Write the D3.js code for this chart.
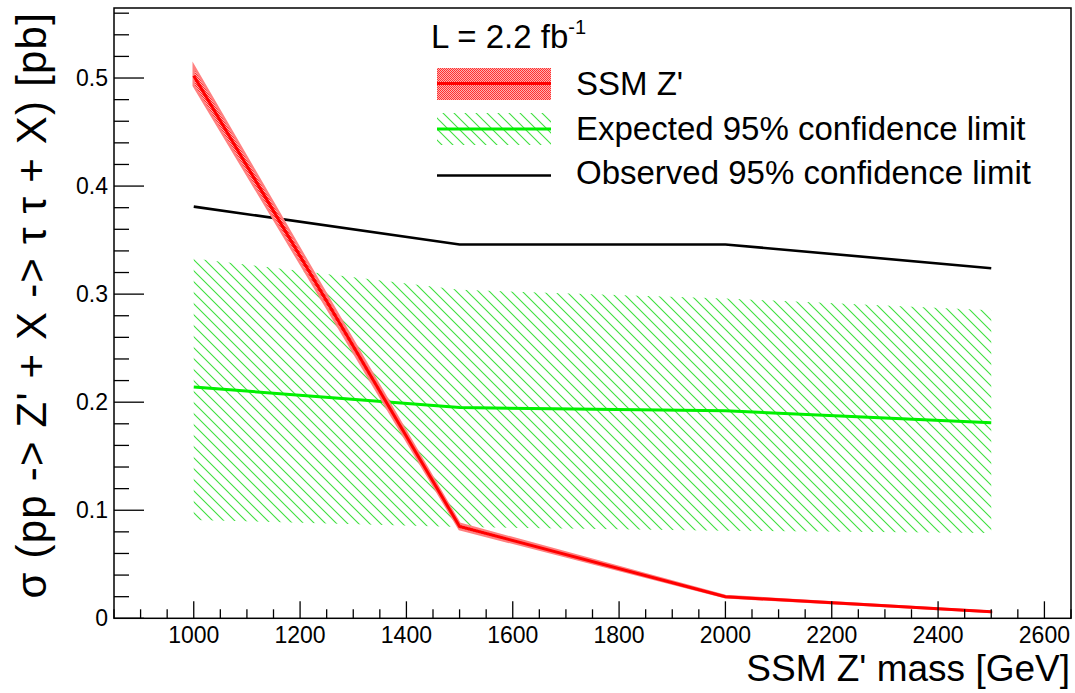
<!DOCTYPE html>
<html><head><meta charset="utf-8">
<script src="https://cdn.jsdelivr.net/npm/d3@7"></script>
<style>body{margin:0;background:#fff}svg{display:block}text{font-family:"Liberation Sans",Arial,sans-serif}</style>
</head><body>
<script>
// ---- data ----
const masses = [1000, 1500, 2000, 2500];
const ssmXsec = [0.502, 0.085, 0.020, 0.006];
const ssmErr = [0.009, 0.0025, 0.0006, 0.0002];
const expected = [0.214, 0.195, 0.192, 0.181];
const expectedHigh = [0.333, 0.304, 0.296, 0.285];
const expectedLow = [0.091, 0.0845, 0.081, 0.079];
const observed = [0.381, 0.346, 0.346, 0.324];
const xTicks = [1000, 1200, 1400, 1600, 1800, 2000, 2200, 2400, 2600];
const yTicks = [0, 0.1, 0.2, 0.3, 0.4, 0.5];
const legendLabels = ["SSM Z'", "Expected 95% confidence limit", "Observed 95% confidence limit"];

const W = 1075, H = 693;
const L = 114, R = 1071, T = 8, B = 618.3;
const svg = d3.select("body").append("svg").attr("width", W).attr("height", H);
const x = d3.scaleLinear().domain([850, 2650]).range([L, R]);
const y = d3.scaleLinear().domain([0, 0.5648]).range([B, T]);

const defs = svg.append("defs");
const hatch = defs.append("pattern").attr("id", "hatch").attr("patternUnits", "userSpaceOnUse")
  .attr("width", 11).attr("height", 11);
hatch.append("path").attr("d", "M-1,-1L12,12M-12,-1L1,12M10,-1L23,12").attr("stroke", "#3ee03e").attr("stroke-width", 1.1);
const dots = defs.append("pattern").attr("id", "dots").attr("patternUnits", "userSpaceOnUse")
  .attr("width", 2).attr("height", 2);
dots.append("rect").attr("width", 2).attr("height", 2).attr("fill", "#ffb0b0");
dots.append("rect").attr("width", 1).attr("height", 1).attr("fill", "#ff3030");
dots.append("rect").attr("x", 1).attr("y", 1).attr("width", 1).attr("height", 1).attr("fill", "#ff3030");

const idx = d3.range(masses.length);

// expected band
svg.append("path").datum(idx)
  .attr("d", d3.area().x(i => x(masses[i])).y0(i => y(expectedLow[i])).y1(i => y(expectedHigh[i])))
  .attr("fill", "url(#hatch)");
// expected line
svg.append("path").datum(idx)
  .attr("d", d3.line().x(i => x(masses[i])).y(i => y(expected[i])))
  .attr("fill", "none").attr("stroke", "#00f000").attr("stroke-width", 3);
// observed
svg.append("path").datum(idx)
  .attr("d", d3.line().x(i => x(masses[i])).y(i => y(observed[i])))
  .attr("fill", "none").attr("stroke", "#000").attr("stroke-width", 2.6);
// SSM band
svg.append("path").datum(idx)
  .attr("d", d3.area().x(i => x(masses[i])).y0(i => y(ssmXsec[i] - ssmErr[i])).y1(i => y(ssmXsec[i] + ssmErr[i])))
  .attr("fill", "url(#dots)").attr("stroke", "#ff8080").attr("stroke-width", 2.5);
svg.append("path").datum(idx)
  .attr("d", d3.line().x(i => x(masses[i])).y(i => y(ssmXsec[i])))
  .attr("fill", "none").attr("stroke", "#ff0000").attr("stroke-width", 3);

// frame
svg.append("rect").attr("x", L).attr("y", T).attr("width", R - L).attr("height", B - T)
  .attr("fill", "none").attr("stroke", "#000").attr("stroke-width", 1.5);

// x ticks (inward)
const xMinor = d3.range(850, 2651, 50);
svg.append("g").selectAll("line").data(xMinor).join("line")
  .attr("x1", d => x(d)).attr("x2", d => x(d)).attr("y1", B)
  .attr("y2", d => B - (d % 200 === 0 ? 17 : 9))
  .attr("stroke", "#000").attr("stroke-width", 1.3);
svg.append("g").selectAll("text").data(xTicks).join("text")
  .attr("x", d => x(d)).attr("y", 642.5).attr("text-anchor", "middle")
  .attr("font-size", 23).text(d => d);

// y ticks
const yMinor = d3.range(0, 29).map(i => i * 0.02);
svg.append("g").selectAll("line").data(yMinor).join("line")
  .attr("x1", L).attr("x2", (d, i) => L + (i % 5 === 0 ? 30 : 15))
  .attr("y1", d => y(d)).attr("y2", d => y(d))
  .attr("stroke", "#000").attr("stroke-width", 1.3);
svg.append("g").selectAll("text").data(yTicks).join("text")
  .attr("x", 108).attr("y", d => y(d) + 8).attr("text-anchor", "end")
  .attr("font-size", 23).text(d => d3.format("")(d));

// axis titles
svg.append("text").attr("x", 1070).attr("y", 681).attr("text-anchor", "end")
  .attr("font-size", 37).text("SSM Z' mass [GeV]");
svg.append("text").attr("transform", `translate(46,${T + 4}) rotate(-90)`)
  .attr("text-anchor", "end").attr("font-size", 42).attr("letter-spacing", 1.2)
  .text("σ (pp -> Z' + X -> τ τ + X) [pb]");

// legend
const lum = svg.append("text").attr("x", 431).attr("y", 48).attr("font-size", 33);
lum.append("tspan").text("L = 2.2 fb");
lum.append("tspan").attr("dy", -14).attr("font-size", 20).text("-1");

const lx0 = 437, lx1 = 551;
svg.append("rect").attr("x", lx0).attr("y", 68).attr("width", lx1 - lx0).attr("height", 32).attr("fill", "url(#dots)");
svg.append("line").attr("x1", lx0).attr("x2", lx1).attr("y1", 83.5).attr("y2", 83.5).attr("stroke", "#ff0000").attr("stroke-width", 3);
svg.append("rect").attr("x", lx0).attr("y", 113).attr("width", lx1 - lx0).attr("height", 32).attr("fill", "url(#hatch)");
svg.append("line").attr("x1", lx0).attr("x2", lx1).attr("y1", 129).attr("y2", 129).attr("stroke", "#00f000").attr("stroke-width", 3);
svg.append("line").attr("x1", lx0).attr("x2", lx1).attr("y1", 175.5).attr("y2", 175.5).attr("stroke", "#000").attr("stroke-width", 2.6);
svg.append("g").selectAll("text").data(legendLabels).join("text")
  .attr("x", 576).attr("y", (d, i) => [95, 140, 184][i]).attr("font-size", 33).text(d => d);
</script>
</body></html>
